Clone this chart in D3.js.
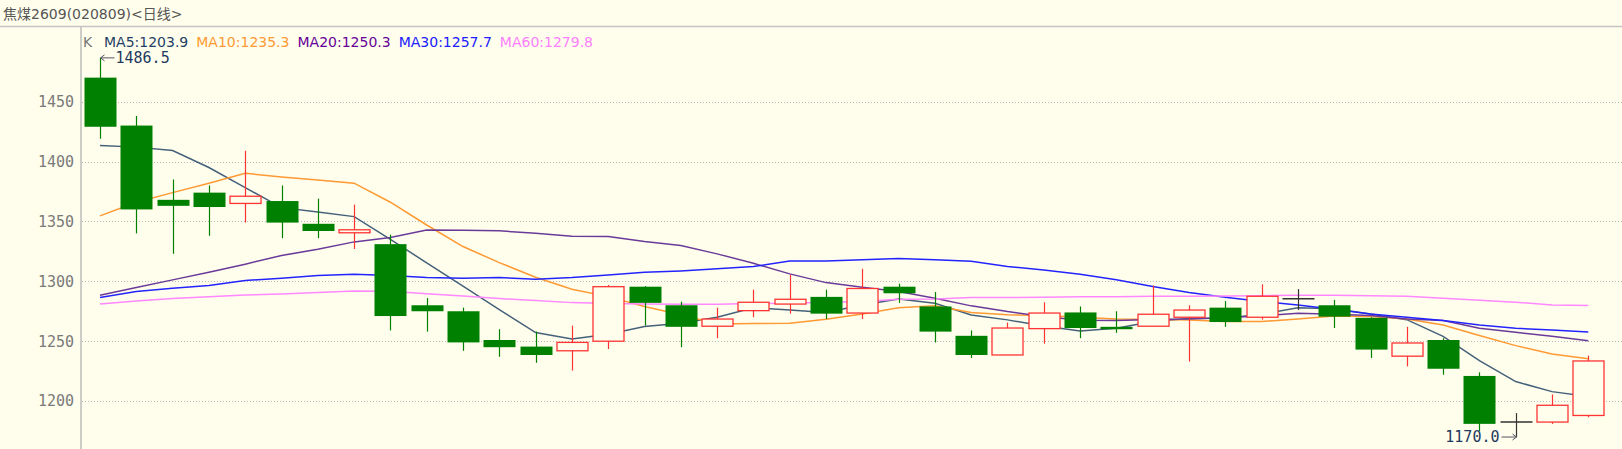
<html>
<head>
<script src="https://d3js.org/d3.v7.min.js"></script>
<style>
body {
    margin: 0;
    padding: 0;
    background: #fffeec;
}
svg {
    display: block;
    background: #fffeec;
}
.y.axis line {
    stroke: #bcbcbc;
    stroke-dasharray: 1,2;
    shape-rendering: crispEdges;
}
.y.axis text {
    fill: #7a7a7a;
    font-family: 'DejaVu Sans Mono', monospace;
    font-size: 15px;
}
.title {
    fill: #555;
    font-family: 'DejaVu Sans', 'Noto Sans CJK SC', sans-serif;
    font-size: 14px;
}
.legend text {
    font-family: 'DejaVu Sans', sans-serif;
    font-size: 14px;
}
.mark text {
    fill: #1f3a5f;
    font-family: 'DejaVu Sans Mono', monospace;
    font-size: 15px;
}
.ma {
    fill: none;
    stroke-width: 1.5;
}
</style>
</head>
<body>
<script>
// daily bars (oldest first)
var opens  = [1470, 1430, 1368, 1374, 1365, 1367, 1348, 1340.5, 1331, 1280,
              1275, 1251, 1245.5, 1242, 1250, 1295.5, 1280, 1262.5, 1275.5, 1281,
              1287, 1273.5, 1295.5, 1279, 1254.5, 1238.5, 1260.5, 1274, 1262, 1262.5,
              1270, 1278, 1270, 1285.5, 1280, 1269.5, 1237.5, 1251, 1221, 1182.5,
              1182.5, 1188];
var highs  = [1486.5, 1438, 1385, 1380, 1409, 1380, 1369, 1364, 1339, 1286,
              1278, 1260, 1258, 1263, 1297, 1296, 1283, 1278, 1293, 1305.5,
              1293, 1310.5, 1298, 1291, 1259, 1265.5, 1282.5, 1279, 1275, 1296.5,
              1280, 1283.5, 1297.5, 1293.5, 1284.5, 1270, 1262, 1252.5, 1224, 1190,
              1205.5, 1238];
var lows   = [1419, 1340, 1323, 1338, 1349, 1336, 1336, 1327, 1259, 1258,
              1242, 1237, 1232, 1225.5, 1243.5, 1263, 1245, 1252.5, 1270, 1273,
              1268.5, 1268.5, 1282, 1249, 1236, 1238.5, 1248, 1252.5, 1257, 1262.5,
              1233, 1262, 1268, 1276, 1261, 1236, 1229, 1222, 1175, 1170,
              1181, 1186.5];
var closes = [1429, 1360, 1363, 1362, 1371, 1349, 1342, 1343, 1271, 1275,
              1249, 1245, 1238.5, 1249, 1295.5, 1282, 1262, 1268.5, 1282.5, 1285,
              1273, 1294, 1290, 1258, 1238.5, 1261, 1273.5, 1261, 1260, 1272.5,
              1276, 1266, 1287.5, 1285.5, 1270.5, 1243, 1248.5, 1227, 1181, 1182.5,
              1196.5, 1233.5];

// moving averages as drawn
var ma5  = [1413.3, 1412, 1409.1, 1395, 1378.2, 1361.5, 1357.9, 1354, 1335, 1315.4,
            1295.9, 1276.4, 1257.2, 1251.9, 1255.8, 1262.2, 1265, 1270, 1278, 1276.1,
            1273.9, 1280.3, 1285.3, 1281.7, 1271.9, 1267.8, 1262.7, 1258.5, 1260.8, 1266.4,
            1268.9, 1269.2, 1272.5, 1278, 1277, 1272.8, 1268, 1254.1, 1233.8, 1216.3,
            1207.9, 1203.9];
var ma10 = [1354.6, 1366, 1374, 1381.9, 1390.2, 1387.1, 1384.6, 1381.9, 1366, 1347,
            1329, 1315.6, 1303.4, 1293.4, 1287.2, 1278.9, 1272, 1264.4, 1264.7, 1265,
            1268.3, 1272.8, 1278, 1279.5, 1273.9, 1272, 1271.4, 1270, 1268.6, 1268.3,
            1267.8, 1266.4, 1266.4, 1268.6, 1271.1, 1270.6, 1268.6, 1263.6, 1254.7, 1246.3,
            1239.4, 1235.3];
var ma20 = [1288.4, 1294.8, 1301.2, 1307.6, 1314.3, 1321.5, 1326.8, 1332.9, 1336.5, 1342.9,
            1342.6, 1342.1, 1340.1, 1337.6, 1337.3, 1333.2, 1329.8, 1322.9, 1315, 1306.2,
            1298.9, 1295, 1291.4, 1285.9, 1279.5, 1274.7, 1270.6, 1267.5, 1267.2, 1268.1,
            1268.6, 1269.7, 1271.1, 1273.4, 1272.5, 1271.4, 1268.6, 1267.2, 1260.8, 1257.4,
            1254.1, 1250.3];
var ma30 = [1286.4, 1291.4, 1294.2, 1296.4, 1300.6, 1302.6, 1304.8, 1305.9, 1304.8, 1303.1,
            1302.6, 1303.1, 1301.7, 1303.1, 1305.3, 1307.6, 1308.7, 1310.4, 1312.3, 1317,
            1317, 1317.9, 1319, 1317.9, 1316.8, 1312.3, 1309.5, 1305.9, 1301.2, 1295.6,
            1290.6, 1286.7, 1283.1, 1280.3, 1276.7, 1272.8, 1270, 1267.2, 1263.6, 1260.8,
            1259.4, 1257.7];
var ma60 = [1281.1, 1283.6, 1285.6, 1287, 1288.6, 1289.5, 1290.6, 1292, 1291.7, 1289.7,
            1287.8, 1285.6, 1283.9, 1282.2, 1281.4, 1281.1, 1280.9, 1280.9, 1281.4, 1281.7,
            1282.5, 1283.1, 1285, 1285.3, 1286.4, 1286.4, 1286.7, 1287, 1287.2, 1287.5,
            1287.5, 1287.8, 1288, 1288.4, 1288.4, 1288, 1287.5, 1285.9, 1284.2, 1282.5,
            1280.3, 1279.8];

var maNames = ["MA5", "MA10", "MA20", "MA30", "MA60"];
var yTicks = [1200, 1250, 1300, 1350, 1400, 1450];
var title = "焦煤2609(020809)<日线>";

var width = 1622;
var height = 449;
var left = 81;
var bg = "#fffeec";
var upColor = "#ff3333";
var downColor = "#008000";
var dojiColor = "#333";
var maColors = ["#44607a", "#ff9933", "#6a3a9a", "#2323ff", "#ff88ff"];
var maTextColors = ["#1f3f66", "#ff9933", "#660099", "#2020ff", "#ff80ff"];

var days = d3.range(opens.length);
var maSeries = [ma5, ma10, ma20, ma30, ma60];

var x = d3.scalePoint().domain(days).range([100, 1588.3]);
var y = d3.scaleLinear().domain([1200, 1450]).range([401.1, 101.6]);
var bodyW = 32;

var svg = d3.select("body")
    .append("svg")
    .attr("width", width)
    .attr("height", height);

// title bar
svg.append("text")
    .attr("class", "title")
    .attr("x", 3)
    .attr("y", 19)
    .text(title);

svg.append("line")
    .attr("x1", 0).attr("x2", width)
    .attr("y1", 26.5).attr("y2", 26.5)
    .attr("stroke", "#c4c4c4")
    .attr("stroke-width", 1.5);

// y axis with dotted grid
var yAxis = d3.axisLeft(y)
    .tickValues(yTicks)
    .tickSize(-(width - left))
    .tickPadding(7)
    .tickFormat(d3.format("d"));

var gy = svg.append("g")
    .attr("class", "y axis")
    .attr("transform", "translate(" + left + ",0)")
    .call(yAxis);
gy.select(".domain").remove();
gy.selectAll(".tick line").attr("transform", "translate(1,0)");

svg.append("line")
    .attr("x1", left).attr("x2", left)
    .attr("y1", 27).attr("y2", height)
    .attr("stroke", "#bdbdbd")
    .attr("stroke-width", 1.5);

// MA lines
var line = d3.line()
    .x(function (d, i) { return x(i); })
    .y(function (d) { return y(d); });

svg.selectAll("path.ma")
    .data(maSeries)
    .enter()
    .append("path")
    .attr("class", "ma")
    .attr("stroke", function (d, i) { return maColors[i]; })
    .attr("d", line);

// candles
function kind(i) {
    if (closes[i] > opens[i]) return "up";
    if (closes[i] < opens[i]) return "down";
    return "doji";
}
function color(i) {
    var k = kind(i);
    return k == "up" ? upColor : (k == "down" ? downColor : dojiColor);
}
function cx(i) {
    return Math.round(x(i)) + 0.5;
}

var candles = svg.append("g").attr("class", "candles");

candles.selectAll("line.wick")
    .data(days)
    .enter()
    .append("line")
    .attr("class", "wick")
    .attr("x1", cx).attr("x2", cx)
    .attr("y1", function (i) { return y(highs[i]); })
    .attr("y2", function (i) { return y(lows[i]); })
    .attr("stroke", color)
    .attr("stroke-width", 1.2);

candles.selectAll("rect.body")
    .data(days.filter(function (i) { return kind(i) == "down"; }))
    .enter()
    .append("rect")
    .attr("class", "body")
    .attr("x", function (i) { return cx(i) - bodyW / 2; })
    .attr("width", bodyW)
    .attr("y", function (i) { return y(opens[i]); })
    .attr("height", function (i) { return Math.max(1, y(closes[i]) - y(opens[i])); })
    .attr("fill", downColor);

candles.selectAll("rect.hollow")
    .data(days.filter(function (i) { return kind(i) == "up"; }))
    .enter()
    .append("rect")
    .attr("class", "hollow")
    .attr("x", function (i) { return cx(i) - bodyW / 2 + 0.5; })
    .attr("width", bodyW - 1)
    .attr("y", function (i) { return y(closes[i]); })
    .attr("height", function (i) { return Math.max(1, y(opens[i]) - y(closes[i])); })
    .attr("fill", bg)
    .attr("stroke", upColor)
    .attr("stroke-width", 1.3);

candles.selectAll("line.doji")
    .data(days.filter(function (i) { return kind(i) == "doji"; }))
    .enter()
    .append("line")
    .attr("class", "doji")
    .attr("x1", function (i) { return cx(i) - bodyW / 2; })
    .attr("x2", function (i) { return cx(i) + bodyW / 2; })
    .attr("y1", function (i) { return y(closes[i]); })
    .attr("y2", function (i) { return y(closes[i]); })
    .attr("stroke", dojiColor)
    .attr("stroke-width", 1.5);

// highest / lowest marks
var hi = d3.maxIndex(highs);
var lo = d3.minIndex(lows);
var mark = svg.append("g").attr("class", "mark");

var hx = cx(hi), hy = y(highs[hi]);
mark.append("path")
    .attr("d", "M" + hx + "," + hy + "h14M" + (hx + 4) + "," + (hy - 3) + "L" + hx + "," + hy + "L" + (hx + 4) + "," + (hy + 3))
    .attr("fill", "none")
    .attr("stroke", "#556")
    .attr("stroke-width", 1);
mark.append("text")
    .attr("x", hx + 15)
    .attr("y", hy)
    .attr("dy", "0.35em")
    .text(d3.format(".1f")(highs[hi]));

var lx = cx(lo), ly = y(lows[lo]);
mark.append("path")
    .attr("d", "M" + lx + "," + ly + "h-15M" + (lx - 4) + "," + (ly - 3) + "L" + lx + "," + ly + "L" + (lx - 4) + "," + (ly + 3))
    .attr("fill", "none")
    .attr("stroke", "#556")
    .attr("stroke-width", 1);
mark.append("text")
    .attr("x", lx - 17)
    .attr("y", ly)
    .attr("dy", "0.35em")
    .attr("text-anchor", "end")
    .text(d3.format(".1f")(lows[lo]));

// legend
var legend = svg.append("g").attr("class", "legend");
var lgX = 83;
legend.append("text")
    .attr("x", lgX).attr("y", 47)
    .attr("fill", "#777")
    .text("K");
lgX = 104;
maNames.forEach(function (name, i) {
    var vals = maSeries[i];
    var t = legend.append("text")
        .attr("x", lgX).attr("y", 47)
        .attr("fill", maTextColors[i])
        .text(name + ":" + d3.format(".1f")(vals[vals.length - 1]));
    lgX += t.node().getComputedTextLength() + 8;
});
</script>
</body>
</html>
